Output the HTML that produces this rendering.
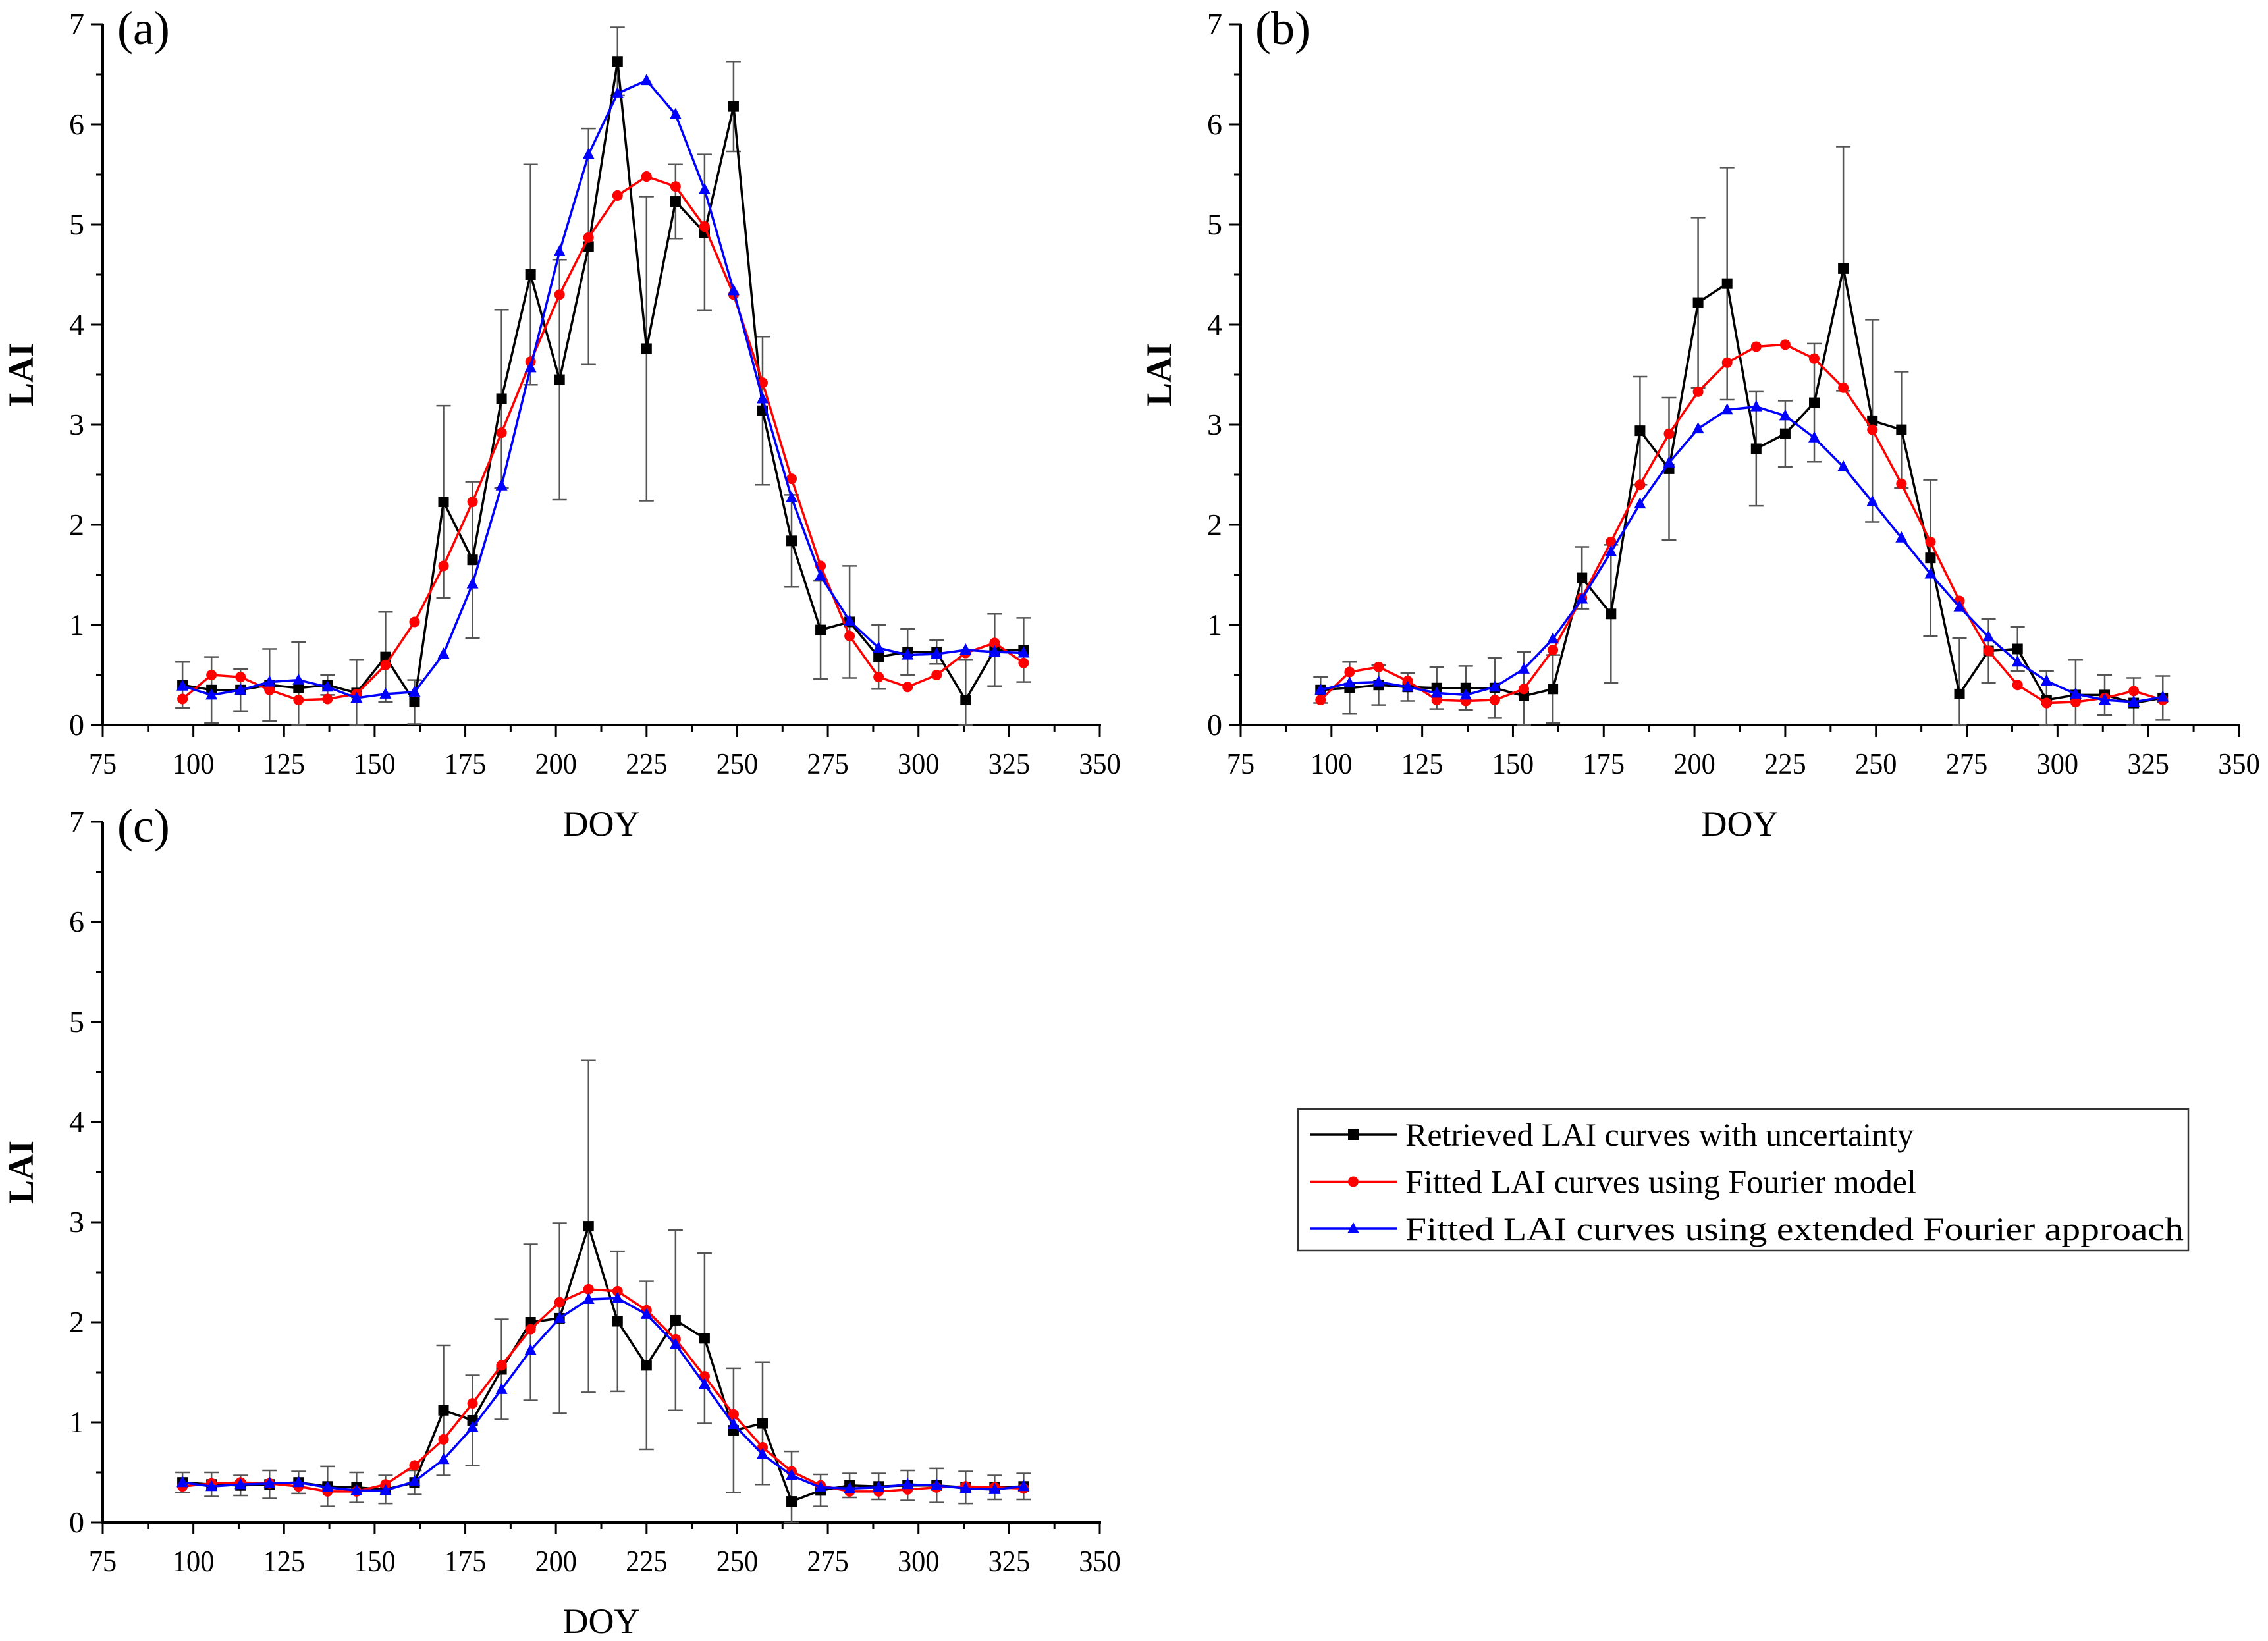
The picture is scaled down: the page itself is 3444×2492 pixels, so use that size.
<!DOCTYPE html>
<html><head><meta charset="utf-8"><style>
html,body{margin:0;padding:0;background:#fff;}
svg{display:block;font-family:"Liberation Serif",serif;}
</style></head><body>
<svg id="chart" width="3444" height="2492" viewBox="0 0 3444 2492" xmlns="http://www.w3.org/2000/svg"></svg>
<script>
const doy = [97,105,113,121,129,137,145,153,161,169,177,185,193,201,209,217,225,233,241,249,257,265,273,281,289,297,305,313,321,329];
const xTicks = [75,100,125,150,175,200,225,250,275,300,325,350];
const yTicks = [0,1,2,3,4,5,6,7];

const aRetrieved = [0.4,0.35,0.35,0.4,0.37,0.4,0.32,0.68,0.23,2.23,1.65,3.26,4.5,3.45,4.78,6.63,3.76,5.23,4.92,6.18,3.14,1.84,0.95,1.03,0.68,0.73,0.73,0.25,0.75,0.75];
const aErr = [0.23,0.33,0.21,0.36,0.46,0.1,0.33,0.45,0.22,0.96,0.78,0.89,1.1,1.2,1.18,0.34,1.52,0.37,0.78,0.45,0.74,0.46,0.49,0.56,0.32,0.23,0.12,0.4,0.36,0.32];
const aFourier = [0.26,0.5,0.48,0.35,0.25,0.26,0.31,0.6,1.03,1.59,2.23,2.92,3.63,4.3,4.87,5.29,5.48,5.38,4.98,4.3,3.42,2.46,1.59,0.89,0.48,0.38,0.5,0.72,0.82,0.62];
const aExtended = [0.39,0.3,0.35,0.43,0.45,0.38,0.27,0.31,0.33,0.71,1.41,2.39,3.57,4.73,5.7,6.31,6.44,6.1,5.35,4.34,3.26,2.27,1.49,1.04,0.77,0.7,0.71,0.75,0.73,0.72];

const bRetrieved = [0.35,0.37,0.4,0.38,0.37,0.37,0.37,0.29,0.36,1.47,1.11,2.94,2.56,4.22,4.41,2.76,2.91,3.22,4.56,3.04,2.95,1.67,0.31,0.74,0.76,0.25,0.3,0.3,0.22,0.27];
const bErr = [0.13,0.26,0.2,0.14,0.21,0.22,0.3,0.44,0.34,0.31,0.69,0.54,0.71,0.85,1.16,0.57,0.33,0.59,1.22,1.01,0.58,0.78,0.56,0.32,0.22,0.29,0.35,0.2,0.25,0.22];
const bFourier = [0.25,0.53,0.58,0.44,0.25,0.24,0.25,0.36,0.75,1.27,1.83,2.4,2.91,3.33,3.62,3.78,3.8,3.66,3.37,2.95,2.41,1.83,1.24,0.74,0.4,0.22,0.23,0.27,0.34,0.25];
const bExtended = [0.35,0.42,0.43,0.38,0.32,0.3,0.38,0.56,0.86,1.26,1.73,2.21,2.62,2.96,3.15,3.18,3.09,2.87,2.58,2.23,1.87,1.51,1.18,0.88,0.63,0.44,0.31,0.25,0.23,0.28];

const cRetrieved = [0.4,0.38,0.37,0.38,0.4,0.36,0.35,0.33,0.4,1.12,1.02,1.53,2.0,2.04,2.96,2.01,1.57,2.02,1.84,0.92,0.99,0.21,0.32,0.37,0.36,0.37,0.37,0.35,0.35,0.36];
const cErr = [0.1,0.12,0.1,0.14,0.11,0.2,0.15,0.14,0.12,0.65,0.45,0.5,0.78,0.95,1.66,0.7,0.84,0.9,0.85,0.62,0.61,0.5,0.16,0.12,0.13,0.15,0.17,0.16,0.12,0.13];
const cFourier = [0.36,0.39,0.4,0.39,0.36,0.31,0.31,0.38,0.57,0.83,1.19,1.57,1.93,2.2,2.33,2.31,2.12,1.83,1.46,1.08,0.75,0.51,0.37,0.31,0.31,0.33,0.35,0.36,0.35,0.34];
const cExtended = [0.4,0.36,0.38,0.39,0.4,0.35,0.32,0.32,0.41,0.63,0.95,1.33,1.72,2.04,2.23,2.24,2.08,1.78,1.38,0.98,0.68,0.47,0.35,0.34,0.35,0.38,0.37,0.34,0.33,0.36];

const legendLabels = ["Retrieved LAI curves with uncertainty","Fitted LAI curves using Fourier model","Fitted LAI curves using extended Fourier approach"];

const NS = "http://www.w3.org/2000/svg";
const svg = document.getElementById('chart');
function mk(tag, attrs, parent){const e=document.createElementNS(NS,tag);for(const k in attrs)e.setAttribute(k,attrs[k]);(parent||svg).appendChild(e);return e;}

function panel(id, x0, x1, y0, y7, retrieved, err, fourier, ext){
  const g = mk('g',{});
  
  
  const X = v => x0 + (v-75)/(350-75)*(x1-x0);
  const Y = v => y0 - v/7*(y0-y7);
  const ax = mk('line',{x1:x0,y1:y0,x2:x1+2,y2:y0,stroke:'#000','stroke-width':4},g);
  
  
  const ay = mk('line',{x1:x0,y1:y0+2,x2:x0,y2:y7,stroke:'#000','stroke-width':4},g);
  
  
  for(let v=75; v<=350; v+=12.5){
    const major = (v%25===0);
    mk('line',{x1:X(v),y1:y0,x2:X(v),y2:y0+(major?18:10),stroke:'#000','stroke-width':3},g);
  }
  xTicks.forEach(v=>{
    const t=mk('text',{x:X(v),y:y0+74,'font-size':46,'text-anchor':'middle',transform:`translate(${X(v)},0) scale(0.92,1) translate(${-X(v)},0)`},g);
    t.textContent=v;
    
    
  });
  for(let v=0; v<=7; v+=0.5){
    const major = (v%1===0);
    mk('line',{x1:x0,y1:Y(v),x2:x0-(major?18:10),y2:Y(v),stroke:'#000','stroke-width':3},g);
  }
  yTicks.forEach(v=>{
    const t=mk('text',{x:x0-28,y:Y(v)+15,'font-size':46,'text-anchor':'end'},g);
    t.textContent=v;
    
    
  });
  const xt=mk('text',{x:(x0+x1)/2,y:y0+168,'font-size':54,'text-anchor':'middle'},g);
  xt.textContent='DOY';
  
  
  const yt=mk('text',{x:0,y:0,'font-size':54,'text-anchor':'middle','font-weight':'bold',transform:`translate(${x0-106},${(y0+y7)/2}) rotate(-90)`},g);
  yt.textContent='LAI';
  
  
  const pl=mk('text',{x:x0+22,y:y7+30,'font-size':72},g);
  pl.textContent='('+id+')';
  
  
  doy.forEach((d,i)=>{
    const hi=Y(retrieved[i]+err[i]), lo=Y(Math.max(0,retrieved[i]-err[i])), cx=X(d);
    const e=mk('path',{d:`M${cx},${hi}V${lo}M${cx-11},${hi}H${cx+11}M${cx-11},${lo}H${cx+11}`,stroke:'#555','stroke-width':2.5,fill:'none'},g);
    
    
  });
  function series(vals,color,shape,name){
    const p=mk('polyline',{points:doy.map((d,i)=>X(d)+','+Y(vals[i])).join(' '),fill:'none',stroke:color,'stroke-width':3.5},g);
    
    
    doy.forEach((d,i)=>{
      const cx=X(d), cy=Y(vals[i]); let m;
      if(shape==='sq') m=mk('rect',{x:cx-8,y:cy-8,width:16,height:16,fill:color},g);
      else if(shape==='ci') m=mk('circle',{cx:cx,cy:cy,r:8,fill:color},g);
      else m=mk('polygon',{points:`${cx},${cy-10} ${cx-9},${cy+7} ${cx+9},${cy+7}`,fill:color},g);
      
      
    });
  }
  series(retrieved,'#000','sq','retrieved');
  series(fourier,'#f00','ci','fourier');
  series(ext,'#00f','tr','extended-fourier');
}

panel('a',156,1670,1101,37,aRetrieved,aErr,aFourier,aExtended);
panel('b',1884,3400,1101,37,bRetrieved,bErr,bFourier,bExtended);
panel('c',156,1670,2312,1248,cRetrieved,cErr,cFourier,cExtended);

const lg=mk('g',{});


mk('rect',{x:1971,y:1684,width:1352,height:215,fill:'#fff',stroke:'#333','stroke-width':2.5},lg);
const colors=['#000','#f00','#00f'];
legendLabels.forEach((lab,i)=>{
  const cy=1723+i*71.5;
  const l=mk('line',{x1:1989,y1:cy,x2:2121,y2:cy,stroke:colors[i],'stroke-width':3.5},lg);
  
  
  if(i===0) mk('rect',{x:2047,y:cy-8,width:16,height:16,fill:'#000'},lg);
  else if(i===1) mk('circle',{cx:2055,cy:cy,r:8,fill:'#f00'},lg);
  else mk('polygon',{points:`2055,${cy-10} 2046,${cy+7} 2064,${cy+7}`,fill:'#00f'},lg);
  const t=mk('text',{x:2134,y:cy+17,'font-size':50,textLength:[772,776,1182][i],lengthAdjust:'spacingAndGlyphs'},lg);
  t.textContent=lab;
  
  
});
</script>
</body></html>
